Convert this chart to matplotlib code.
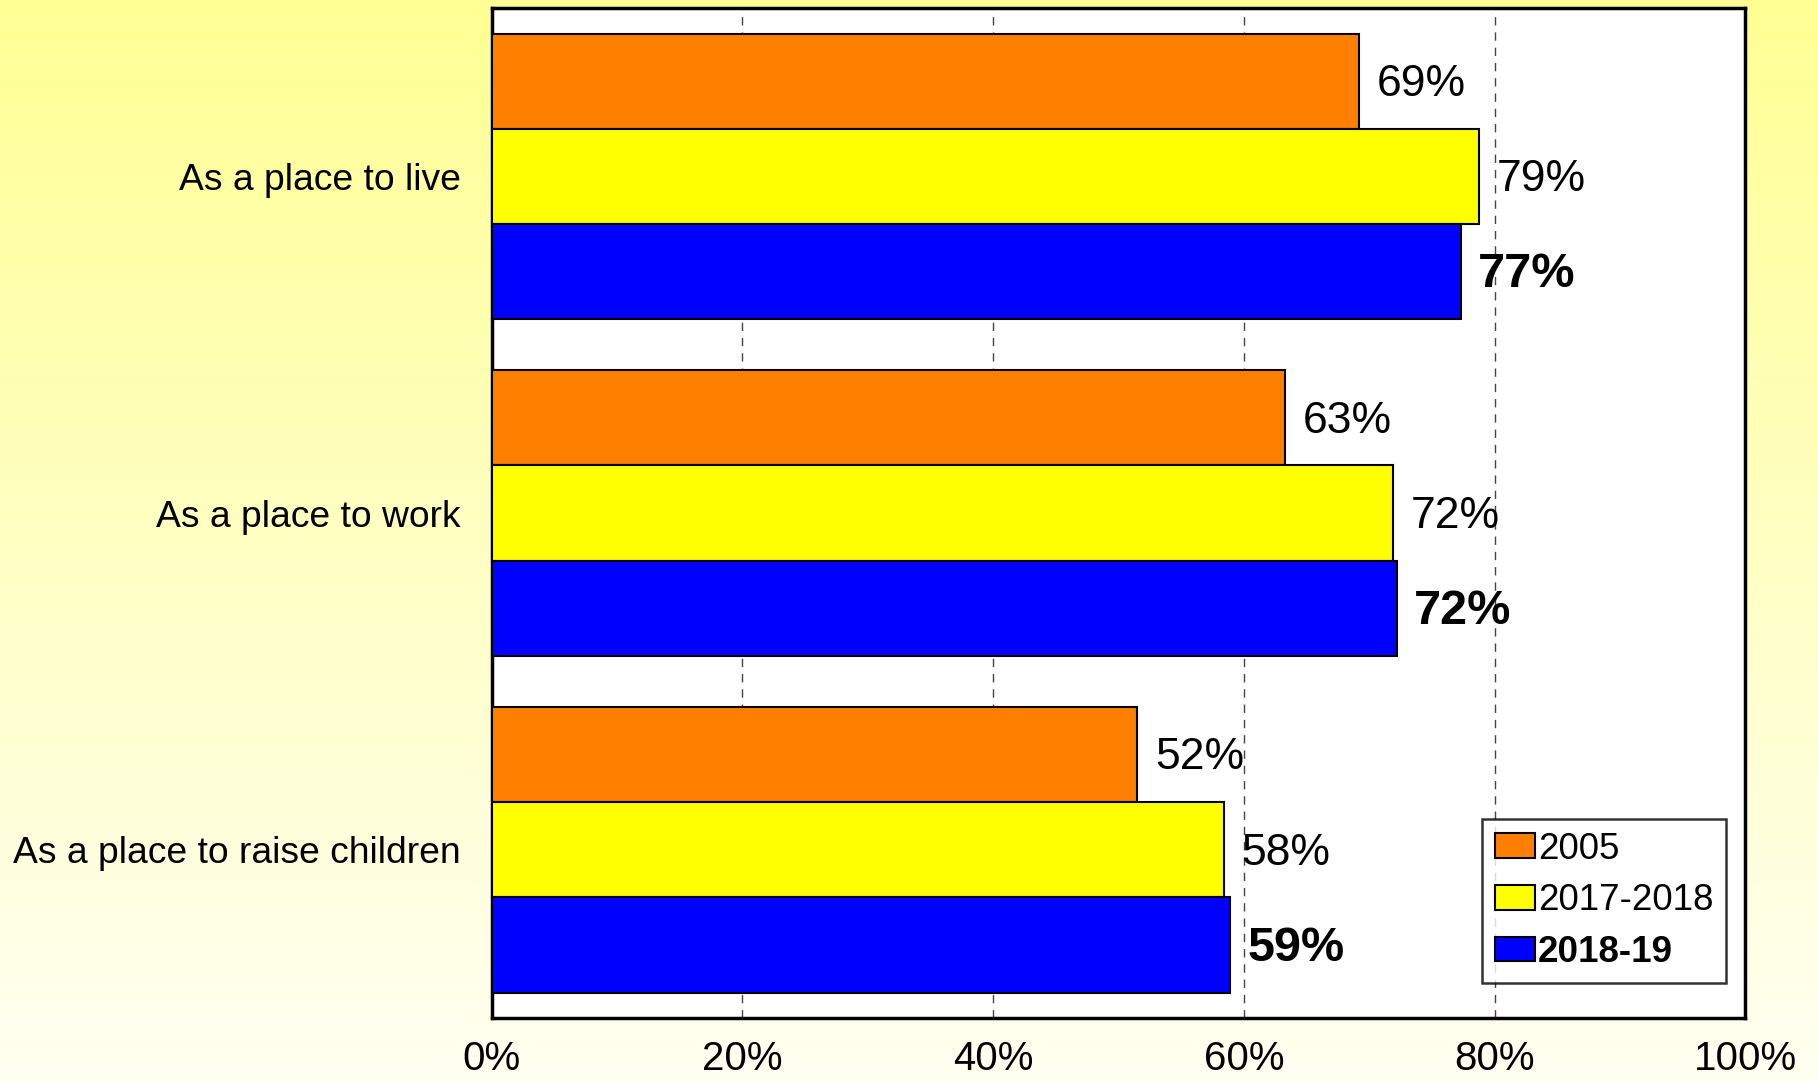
import numpy as np
import matplotlib
matplotlib.use("Agg")
import matplotlib.pyplot as plt
from matplotlib.patches import Patch
from matplotlib import font_manager

categories = ["As a place to live", "As a place to work", "As a place to raise children"]
series_names = ["2005", "2017-2018", "2018-19"]
v2005 = [69.2, 63.3, 51.5]
v2017 = [78.8, 71.9, 58.4]
v2018 = [77.3, 72.2, 58.9]
labels2005 = ["69%", "63%", "52%"]
labels2017 = ["79%", "72%", "58%"]
labels2018 = ["77%", "72%", "59%"]
xticks = [0, 20, 40, 60, 80, 100]
xticklabels = ["0%", "20%", "40%", "60%", "80%", "100%"]

colors = ["#FF8000", "#FFFF00", "#0000FF"]

names = {f.name for f in font_manager.fontManager.ttflist}
base = "Liberation Sans" if "Liberation Sans" in names else "DejaVu Sans"
plt.rcParams['font.family'] = [base, 'DejaVu Sans']

fig = plt.figure(figsize=(18.18, 10.82), dpi=100)

# gradient background
bg = fig.add_axes([0, 0, 1, 1], zorder=-10)
top = np.array([1.0, 1.0, 0.58])
bot = np.array([1.0, 1.0, 0.95])
t = np.linspace(0, 1, 256)[:, None]
grad = top * (1 - t) + bot * t
bg.imshow(grad[:, None, :].repeat(4, axis=1), aspect='auto', extent=[0, 1, 0, 1])
bg.axis('off')

ax = fig.add_axes([0.2704, 0.0591, 0.9600 - 0.2704, 0.9926 - 0.0591])
ax.set_facecolor("white")

y = np.arange(len(categories))
h = 0.2828
series = [v2005, v2017, v2018]
labs = [labels2005, labels2017, labels2018]
for i, (vals, lab) in enumerate(zip(series, labs)):
    pos = y + (i - 1) * h
    ax.barh(pos, vals, height=h, color=colors[i], edgecolor="black", linewidth=1.5, zorder=3)
    for p, v, s in zip(pos, vals, lab):
        ax.text(v + 1.4, p + 0.01, s, va="center", ha="left",
                fontsize=35 if i == 2 else 32,
                fontweight="bold" if i == 2 else "normal", zorder=4)

ax.set_ylim(2.5, -0.5)
ax.set_xlim(0, 100)
ax.set_yticks(y)
ax.set_yticklabels(categories, fontsize=26.8)
ax.set_xticks(xticks)
ax.set_xticklabels(xticklabels, fontsize=29)
ax.tick_params(axis='y', length=0, pad=22)
ax.tick_params(axis='x', length=0, pad=16)
ax.grid(axis='x', linestyle=(0, (6, 5)), color="#444444", linewidth=1.0, zorder=1)
for sp in ax.spines.values():
    sp.set_linewidth(2.5)
    sp.set_color("black")

handles = [Patch(facecolor=c, edgecolor="black", linewidth=1.5) for c in colors]
leg = ax.legend(handles, series_names, loc="lower right", bbox_to_anchor=(0.985, 0.035),
                fontsize=26.5, frameon=True, fancybox=False, edgecolor="black",
                handlelength=1.1, handleheight=0.65, handletextpad=0.08,
                labelspacing=0.45, borderpad=0.35, borderaxespad=0)
leg.get_frame().set_linewidth(1.8)
leg.get_texts()[2].set_fontweight("bold")

fig.savefig("out.png", dpi=100)
